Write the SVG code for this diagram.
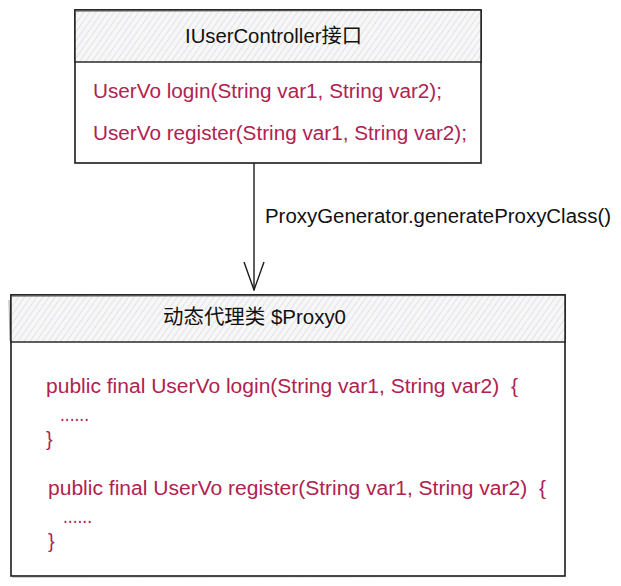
<svg xmlns="http://www.w3.org/2000/svg" width="621" height="586" viewBox="0 0 621 586">
  <style>
    .box { fill: #ffffff; stroke: #1c1c1c; stroke-width: 1.6; }
    .sketch { fill: none; stroke: #444; stroke-width: 0.7; opacity: 0.7; }
    .hdr { fill: url(#hatch); stroke: #1c1c1c; stroke-width: 1.4; }
    .title { font-family: "Liberation Sans", "Noto Sans CJK SC", sans-serif; font-size: 20px; fill: #111111; }
    .code { font-family: "Liberation Sans", "Noto Sans CJK SC", sans-serif; font-size: 20px; fill: #b0224f; white-space: pre; }
    .label { font-family: "Liberation Sans", "Noto Sans CJK SC", sans-serif; font-size: 20px; fill: #111111; }
    .conn { fill: none; stroke: #1c1c1c; stroke-width: 1.4; }
  </style>
  <defs>
    <pattern id="hatch" patternUnits="userSpaceOnUse" width="5" height="5" patternTransform="rotate(35)">
      <rect width="5" height="5" fill="#f7f7f8"/>
      <line x1="0" y1="0" x2="0" y2="5" stroke="#d3d6db" stroke-width="1.2"/>
    </pattern>
    <marker id="vhead" markerUnits="userSpaceOnUse" viewBox="0 0 30 24" refX="29" refY="12" markerWidth="30" markerHeight="24" orient="auto">
      <path d="M1,2 L29,12 L1,22" fill="none" stroke="#1c1c1c" stroke-width="1.4"/>
    </marker>
  </defs>

  <g id="connectors">
    <line class="conn" x1="254" y1="163" x2="254" y2="290" marker-end="url(#vhead)"/>
    <text class="label" x="265" y="223" textLength="346" lengthAdjust="spacingAndGlyphs">ProxyGenerator.generateProxyClass()</text>
  </g>

  <g id="node-interface">
    <rect class="box" x="75" y="10" width="406" height="153"/>
    <rect class="hdr" x="75" y="10" width="406" height="52"/>
    <path class="sketch" d="M76,11.5 L480,10.5 M75.5,163.5 L481,162.5"/>
    <text class="title" x="185" y="43" textLength="177" lengthAdjust="spacingAndGlyphs">IUserController接口</text>
    <text class="code" x="93" y="98" textLength="349" lengthAdjust="spacingAndGlyphs">UserVo login(String var1, String var2);</text>
    <text class="code" x="93" y="140" textLength="374" lengthAdjust="spacingAndGlyphs">UserVo register(String var1, String var2);</text>
  </g>

  <g id="node-proxy">
    <rect class="box" x="11" y="295" width="554" height="281"/>
    <rect class="hdr" x="11" y="295" width="554" height="47"/>
    <path class="sketch" d="M9,300 L10,341 M12,296.5 L564,295.5 M12,577 L564,576.5"/>
    <text class="title" x="163" y="324" textLength="183" lengthAdjust="spacingAndGlyphs">动态代理类 $Proxy0</text>
    <text class="code" x="46" y="393" textLength="472" lengthAdjust="spacingAndGlyphs" xml:space="preserve">public final UserVo login(String var1, String var2)  {</text>
    <text class="code" x="60" y="421" textLength="29" lengthAdjust="spacingAndGlyphs">......</text>
    <text class="code" x="46" y="446">}</text>
    <text class="code" x="48" y="495" textLength="498" lengthAdjust="spacingAndGlyphs" xml:space="preserve">public final UserVo register(String var1, String var2)  {</text>
    <text class="code" x="63" y="523" textLength="29" lengthAdjust="spacingAndGlyphs">......</text>
    <text class="code" x="48" y="548">}</text>
  </g>
</svg>
